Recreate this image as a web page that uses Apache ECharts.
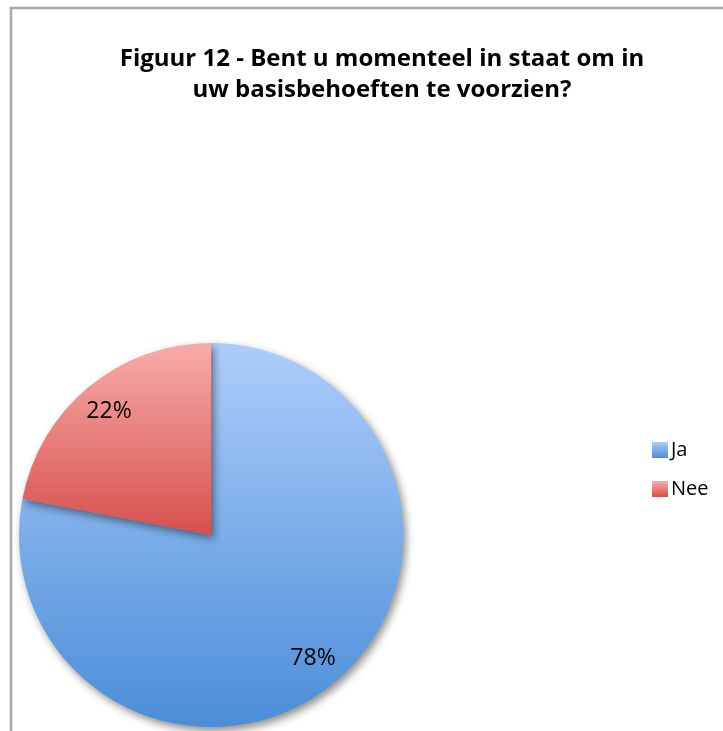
<!DOCTYPE html>
<html><head><meta charset="utf-8">
<script src="https://cdn.jsdelivr.net/npm/echarts@6/dist/echarts.min.js"></script>
<style>html,body{margin:0;padding:0;background:#fff}#c{width:723px;height:731px}</style>
</head><body><div id="c"></div>
<script>
const titleLines = ['Figuur 12 - Bent u momenteel in staat om in', 'uw basisbehoeften te voorzien?'];
const categories = ['Ja', 'Nee'];
const values = [78, 22];
const gradients = [['#adcdfb', '#4b8dd8'], ['#f8acaa', '#d7504c']];

const chart = echarts.init(document.getElementById('c'));
const grad = (c) => new echarts.graphic.LinearGradient(0, 0, 0, 1, [{offset: 0, color: c[0]}, {offset: 1, color: c[1]}]);
const data = categories.map((n, i) => ({name: n, value: values[i], itemStyle: {color: grad(gradients[i])}}));
const labelData = categories.map((n, i) => ({name: n, value: values[i]}));
chart.setOption({
  animation: false,
  title: {
    text: titleLines.join('\n'),
    left: 377, top: 39, textAlign: 'center',
    textStyle: {fontFamily: 'Open Sans', fontWeight: 'bold', fontSize: 24, color: '#000', lineHeight: 31}
  },
  legend: {
    orient: 'vertical', left: 647, top: 435,
    itemWidth: 16, itemHeight: 16, itemGap: 19,
    icon: 'rect',
    textStyle: {fontFamily: 'Open Sans', fontSize: 20, color: '#000', padding: [0, 0, 0, -2]},
    data: categories
  },
  graphic: [{
    type: 'rect', shape: {x: 11, y: 8, width: 900, height: 900},
    style: {fill: 'none', stroke: '#a8a8a8', lineWidth: 2.5}, silent: true
  }],
  series: [{
    type: 'pie', center: [211, 535], radius: [0, 192], startAngle: 90, clockwise: true,
    label: {show: false}, labelLine: {show: false},
    itemStyle: {shadowBlur: 8, shadowOffsetX: 3, shadowOffsetY: 4, shadowColor: 'rgba(0,0,0,0.45)'},
    emphasis: {disabled: true},
    data: data
  }, {
    type: 'pie', center: [211, 535], radius: [122, 192], startAngle: 90, clockwise: true,
    silent: true, legendHoverLink: false,
    itemStyle: {color: 'rgba(0,0,0,0)'},
    label: {show: true, position: 'inside', formatter: '{c}%', fontFamily: 'Open Sans', fontSize: 23, color: '#000'},
    labelLine: {show: false},
    emphasis: {disabled: true},
    data: labelData
  }]
});
</script></body></html>
